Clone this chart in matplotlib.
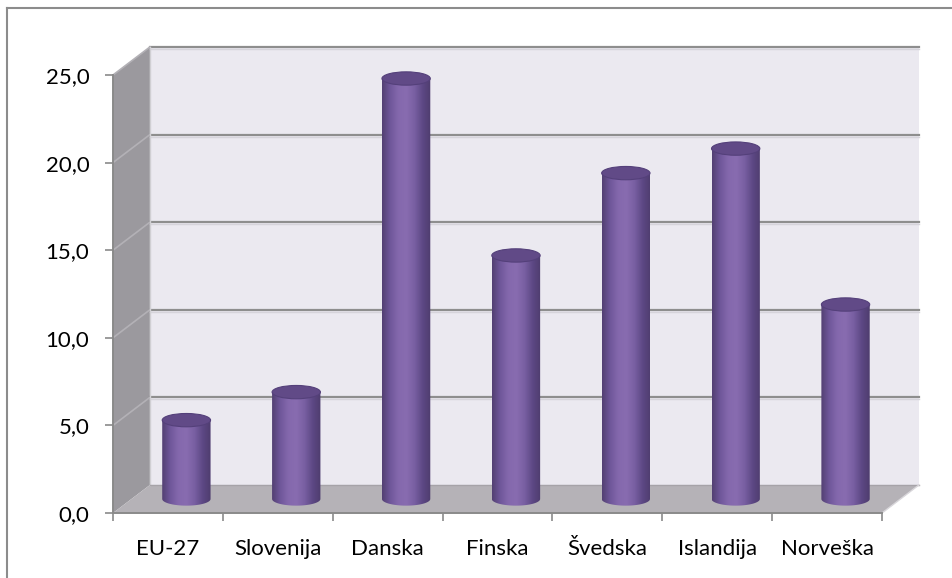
import numpy as np
import matplotlib
matplotlib.use("Agg")
import matplotlib.pyplot as plt
from matplotlib.patches import Polygon, Ellipse, PathPatch
from matplotlib.path import Path
from matplotlib.colors import LinearSegmentedColormap
from matplotlib.lines import Line2D

plt.rcParams['font.family'] = ['Lato', 'DejaVu Sans']

countries = ['EU-27', 'Slovenija', 'Danska', 'Finska', 'Švedska', 'Islandija', 'Norveška']
values = [4.5, 6.1, 24.0, 13.9, 18.6, 20.0, 11.1]
y_ticks = [0, 5, 10, 15, 20, 25]

# depth of the pseudo-3D box, in data units (x: categories, y: values)
dx, dy = 0.336, 1.6
n = len(countries)

fig = plt.figure(figsize=(9.53, 5.78), dpi=100)
ax = fig.add_axes([113 / 953, 65 / 578, (7 + dx + 0.04) * 109.86 / 953, 26.75 * 17.52 / 578])
ax.set_xlim(0, 7 + dx + 0.04)
ax.set_ylim(0, 26.75)
ax.patch.set_visible(False)

# walls and floor
back = Polygon([(dx, dy), (n + dx, dy), (n + dx, 25 + dy), (dx, 25 + dy)],
               closed=True, fc='#ebe9f0', ec='none', zorder=0)
left = Polygon([(0, 0), (dx, dy), (dx, 25 + dy), (0, 25)],
               closed=True, fc='#9b999e', ec='none', zorder=0)
floor = Polygon([(0, 0), (n, 0), (n + dx, dy), (dx, dy)],
                closed=True, fc='#b5b2b7', ec='none', zorder=0)
for p in (back, left, floor):
    ax.add_patch(p)

grid_c = '#8e8e8e'
for v in y_ticks[1:]:
    ax.plot([dx, n + dx], [v + dy, v + dy], color=grid_c, lw=1.6, zorder=1)
    ax.plot([dx, n + dx], [v + dy - 0.12, v + dy - 0.12], color='#d6d4db', lw=1.0, zorder=1)
    ax.plot([0, dx], [v, v + dy], color='#b3b1b6', lw=1.2, zorder=1)
ax.plot([dx, dx], [dy, 25 + dy], color='#d0cfd3', lw=1.0, zorder=1)
ax.plot([dx, n + dx], [dy, dy], color='#a6a3a8', lw=1.0, zorder=1)
ax.plot([n, n + dx], [0, dy], color='#d8d6da', lw=1.0, zorder=1)

# cylinders
body_cmap = LinearSegmentedColormap.from_list(
    'cyl', ['#523f72', '#6f579a', '#8468ad', '#886cb0', '#785fa2', '#5d4884', '#4e3c6e'])
grad = np.linspace(0, 1, 256).reshape(1, -1)
w, ry = 0.44, 0.38
for i, v in enumerate(values):
    cx = i + 0.5 + dx / 2
    base = dy / 2
    top = base + v
    x0, x1 = cx - w / 2, cx + w / 2
    t = np.linspace(np.pi, 2 * np.pi, 40)
    verts = [(x0, top)] + [(cx + w / 2 * np.cos(a), base + ry * np.sin(a)) for a in t] + [(x1, top), (x0, top)]
    clip = PathPatch(Path(verts), fc='none', ec='none', transform=ax.transData)
    ax.add_patch(clip)
    im = ax.imshow(grad, cmap=body_cmap, extent=(x0, x1, base - ry, top),
                   aspect='auto', interpolation='bilinear', zorder=3)
    im.set_clip_path(clip)
    ax.add_patch(Ellipse((cx, top), w, 2 * ry, fc='#614a87', ec='#54407a', lw=0.8, zorder=4))

# axes
ax.set_yticks(y_ticks)
ax.set_yticklabels([f'{v:.1f}'.replace('.', ',') for v in y_ticks])
ax.set_xticks(range(n + 1))
ax.set_xticklabels([])
ax.set_xticks(np.arange(n) + 0.5, minor=True)
ax.set_xticklabels(countries, minor=True)
ax.tick_params(axis='y', length=6, width=1.2, color='#8a8a8a', pad=11, labelsize=16)
ax.tick_params(axis='x', which='major', length=6, width=1.2, color='#8a8a8a')
ax.tick_params(axis='x', which='minor', length=0, pad=19, labelsize=16)
for s in ('top', 'right'):
    ax.spines[s].set_visible(False)
ax.spines['left'].set_bounds(0, 25)
ax.spines['bottom'].set_bounds(0, n)
for s in ('left', 'bottom'):
    ax.spines[s].set_color('#8a8a8a')
    ax.spines[s].set_linewidth(1.4)
    ax.spines[s].set_zorder(2)

# chart frame
fig.add_artist(Line2D([7 / 953, 7 / 953], [0, 1 - 8 / 578], color='#8c8c8c', lw=1.5))
fig.add_artist(Line2D([7 / 953, 1], [1 - 8 / 578, 1 - 8 / 578], color='#8c8c8c', lw=1.5))

fig.savefig('out.png', dpi=100)
